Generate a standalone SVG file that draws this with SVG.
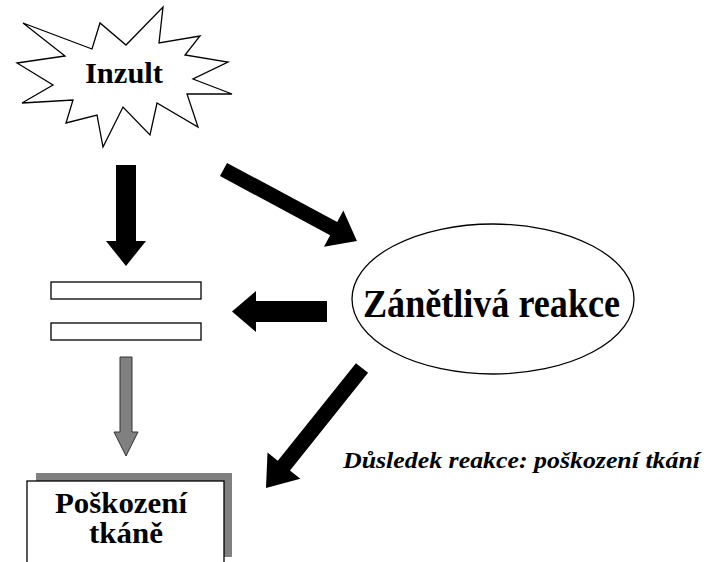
<svg xmlns="http://www.w3.org/2000/svg" width="726" height="562" viewBox="0 0 726 562">
  <defs>
    <style>
      .lbl { font-family: "Liberation Serif", "Times New Roman", serif; font-weight: bold; fill: #000; }
      .shape { fill: #fff; stroke: #000; stroke-width: 1.3; }
      .arrow { fill: #000; stroke: none; }
      .garrow { fill: #808080; stroke: #333; stroke-width: 1; }
    </style>
  </defs>
  <rect width="726" height="562" fill="#fff"/>

  <g id="inzult">
    <polygon class="shape" points="23,23 92,49 100,23 126,45 163,7 159,43 200,36 185,55 228,62 193,79 232,94 187,94 198,127 157,103 150,135 123,107 103,147 97,115 66,123 73,100 22,103 53,85 17,63 65,56"/>
    <text class="lbl" x="85" y="83" font-size="29" textLength="78" lengthAdjust="spacingAndGlyphs">Inzult</text>
  </g>

  <g id="bars">
    <rect class="shape" x="51" y="282" width="150" height="17"/>
    <rect class="shape" x="51" y="323" width="150" height="17"/>
  </g>

  <g id="zanetliva">
    <ellipse class="shape" cx="493" cy="299" rx="141" ry="75"/>
    <text class="lbl" x="363" y="317" font-size="40" textLength="257" lengthAdjust="spacingAndGlyphs">Zánětlivá reakce</text>
  </g>

  <g id="poskozeni">
    <rect x="36" y="473" width="196" height="84" fill="#808080"/>
    <rect class="shape" x="27" y="481" width="197" height="100"/>
    <text class="lbl" x="55" y="513" font-size="30" textLength="132" lengthAdjust="spacingAndGlyphs">Poškození</text>
    <text class="lbl" x="89" y="543" font-size="30" textLength="74" lengthAdjust="spacingAndGlyphs">tkáně</text>
  </g>

  <g id="dusledek">
    <text class="lbl" x="343" y="468" font-size="24" font-style="italic" textLength="357" lengthAdjust="spacingAndGlyphs">Důsledek reakce: poškození tkání</text>
  </g>

  <g id="connectors">
    <polygon class="arrow" points="116,165 136,165 136,241 146,241 126,266 106,241 116,241"/>
    <polygon class="arrow" transform="translate(223.5,169.5) rotate(28.2)" points="0,-7.5 125,-7.5 125,-20.5 151.4,0 125,20.5 125,7.5 0,7.5"/>
    <polygon class="arrow" points="327,301 327,322 256,322 256,332 232,311.5 256,291 256,301"/>
    <polygon class="arrow" transform="translate(362,368) rotate(128.66)" points="0,-7.8 125,-7.8 125,-21 153.7,0 125,21 125,7.8 0,7.8"/>
    <polygon class="garrow" points="120,357 132,357 132,432 138,432 126,456 114,432 120,432"/>
  </g>
</svg>
